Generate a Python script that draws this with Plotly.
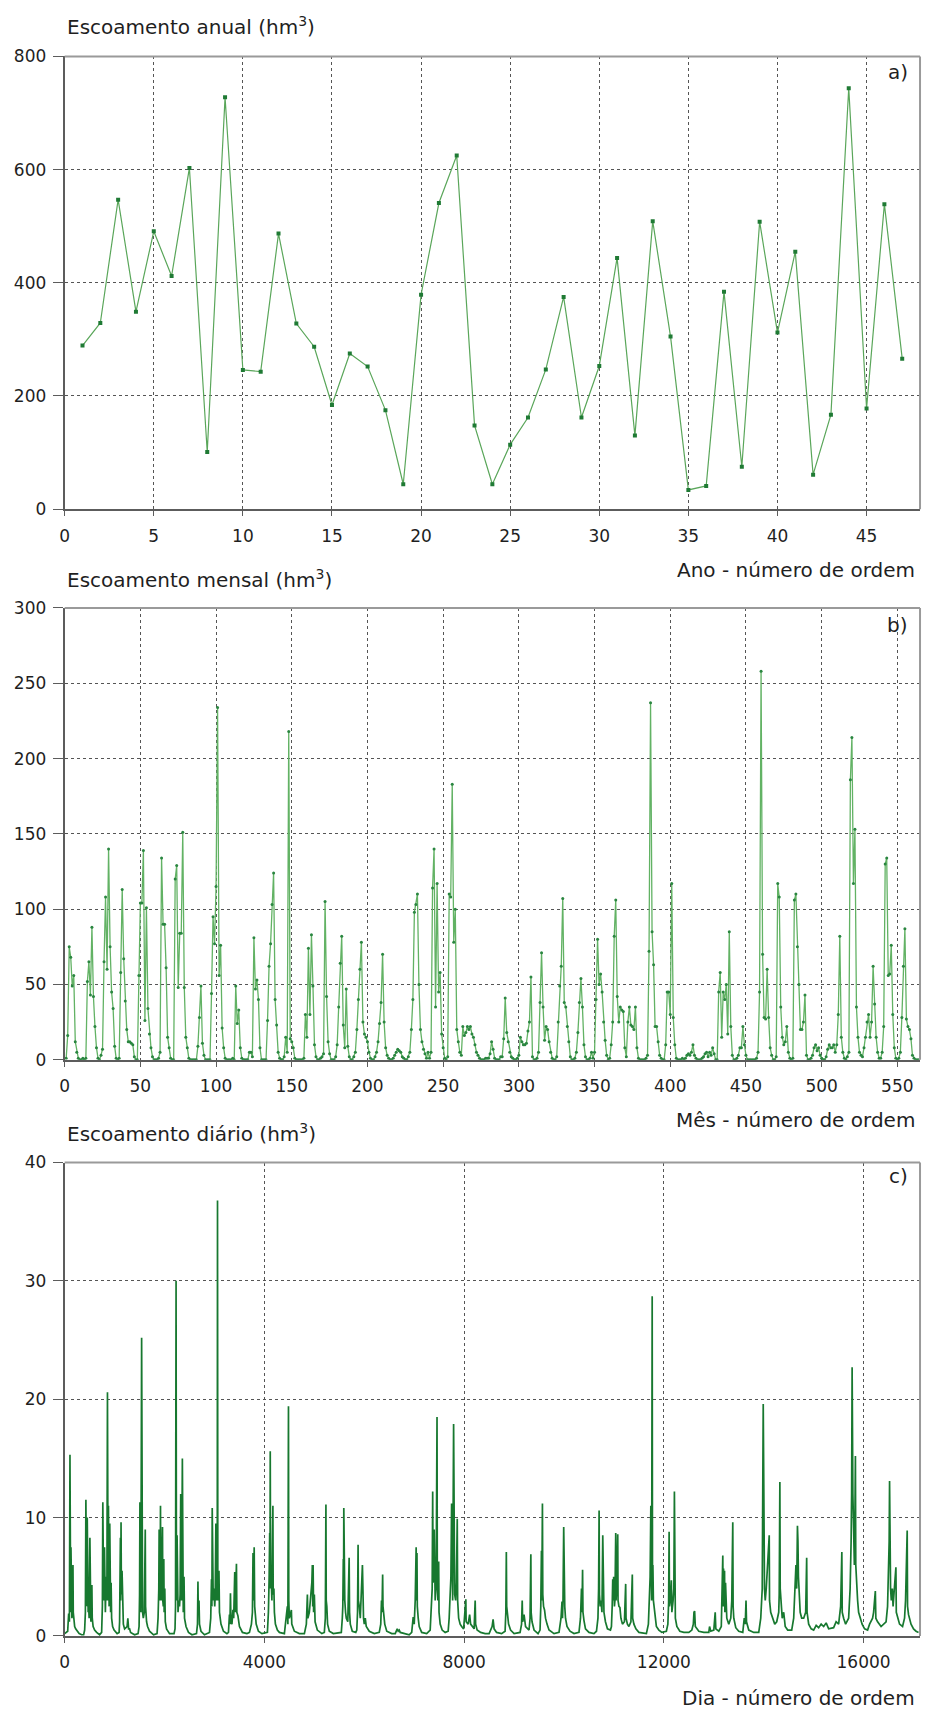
import plotly.graph_objects as go

# ---------------- data ----------------
# (a) annual runoff, hm3, by year order number
ano = list(range(1, 48))
escoamento_anual = [
    289, 329, 547, 349, 491, 412, 603, 101, 728, 246,
    243, 487, 328, 287, 184, 275, 252, 175, 44, 379,
    541, 625, 148, 44, 114, 162, 247, 375, 162, 253,
    444, 130, 509, 305, 34, 41, 384, 75, 508, 312,
    455, 61, 167, 744, 178, 539, 266,
]

# (b) monthly runoff, hm3, by month order number (one row per year)
escoamento_mensal = [
    1, 16, 75, 68, 49, 56, 12, 5, 1, 0, 0, 1,
    0, 1, 52, 65, 43, 88, 42, 22, 8, 1, 0, 3,
    7, 65, 108, 60, 140, 75, 45, 34, 9, 1, 0, 1,
    58, 113, 67, 39, 20, 12, 12, 11, 10, 2, 0, 0,
    56, 104, 104, 139, 26, 101, 34, 17, 8, 2, 0, 0,
    0, 1, 5, 134, 90, 90, 61, 15, 8, 1, 0, 0,
    120, 129, 48, 84, 84, 151, 48, 15, 8, 1, 0, 0,
    0, 0, 0, 9, 28, 49, 11, 3, 0, 0, 0, 0,
    44, 95, 77, 115, 234, 56, 76, 21, 8, 1, 0, 0,
    0, 0, 1, 0, 49, 24, 33, 8, 1, 0, 0, 0,
    0, 5, 5, 2, 81, 47, 53, 40, 8, 0, 0, 0,
    0, 26, 62, 77, 103, 124, 40, 23, 5, 1, 0, 0,
    2, 15, 5, 218, 14, 12, 8, 1, 0, 0, 0, 0,
    0, 1, 30, 15, 74, 30, 83, 49, 10, 2, 0, 0,
    1, 2, 4, 105, 42, 12, 4, 0, 0, 0, 2, 10,
    35, 64, 82, 23, 8, 47, 9, 2, 0, 0, 2, 5,
    20, 40, 60, 78, 25, 17, 15, 12, 5, 1, 0, 0,
    2, 5, 12, 24, 38, 70, 25, 8, 3, 1, 0, 0,
    1, 3, 5, 7, 6, 5, 2, 1, 0, 0, 2, 5,
    20, 40, 98, 103, 110, 50, 20, 12, 7, 4, 1, 5,
    1, 5, 114, 140, 35, 117, 45, 58, 17, 8, 1, 0,
    2, 110, 108, 183, 78, 100, 20, 12, 5, 3, 22, 16,
    18, 22, 20, 22, 17, 15, 10, 5, 3, 1, 0, 0,
    0, 1, 1, 1, 4, 12, 7, 1, 0, 0, 0, 2,
    2, 14, 41, 18, 12, 5, 2, 1, 0, 0, 1, 3,
    15, 12, 10, 10, 11, 19, 25, 55, 2, 0, 0, 1,
    5, 38, 71, 35, 13, 22, 20, 12, 5, 1, 0, 0,
    2, 25, 49, 62, 107, 38, 35, 22, 12, 2, 0, 0,
    1, 5, 18, 38, 54, 35, 10, 2, 0, 0, 1, 5,
    1, 5, 40, 80, 50, 57, 45, 25, 13, 3, 0, 1,
    10, 25, 82, 106, 42, 25, 35, 33, 32, 8, 2, 25,
    35, 23, 22, 20, 35, 8, 1, 0, 0, 0, 0, 1,
    3, 72, 237, 85, 63, 22, 22, 12, 3, 1, 0, 0,
    10, 45, 45, 30, 117, 28, 10, 1, 0, 0, 0, 1,
    0, 1, 3, 4, 3, 5, 10, 3, 1, 0, 0, 0,
    1, 2, 4, 5, 2, 5, 3, 8, 4, 0, 0, 45,
    58, 15, 45, 40, 50, 17, 85, 22, 3, 0, 0, 1,
    3, 8, 8, 22, 10, 3, 0, 0, 0, 0, 0, 0,
    1, 5, 45, 258, 70, 28, 27, 60, 28, 8, 3, 0,
    0, 2, 117, 108, 35, 15, 10, 12, 22, 5, 1, 0,
    1, 106, 110, 75, 50, 20, 20, 25, 43, 3, 0, 0,
    1, 3, 8, 10, 6, 8, 3, 1, 0, 0, 2, 7,
    10, 8, 8, 10, 5, 10, 30, 82, 15, 5, 1, 0,
    2, 5, 186, 214, 117, 153, 35, 15, 5, 3, 2, 8,
    15, 25, 30, 15, 25, 62, 37, 15, 5, 1, 1, 5,
    22, 130, 134, 56, 57, 76, 30, 8, 1, 0, 1, 5,
    28, 62, 87, 27, 22, 20, 14, 3, 1, 0, 0, 0,
]
mes = list(range(1, len(escoamento_mensal) + 1))

# (c) daily runoff, hm3, sampled at the day numbers below
dia = [
    0, 60, 80, 95, 106, 112, 120, 126, 132, 145, 155, 166, 172, 185, 200, 220, 250, 290, 340,
    380, 400, 415, 425, 432, 440, 452, 458, 470, 480, 490, 505, 512, 525, 545, 552, 570, 600, 640, 700,
    740, 755, 764, 770, 780, 797, 805, 815, 830, 845, 857, 862, 870, 877, 883, 890, 903, 910, 920, 930, 940, 960, 990, 1050,
    1090, 1100, 1116, 1122, 1129, 1136, 1149, 1158, 1175, 1200, 1250, 1265, 1280, 1300, 1320, 1400,
    1470, 1490, 1500, 1507, 1514, 1525, 1541, 1547, 1560, 1575, 1595, 1614, 1620, 1640, 1660, 1700, 1780,
    1850, 1870, 1885, 1892, 1898, 1910, 1919, 1925, 1935, 1945, 1959, 1965, 1975, 1985, 1992, 2005, 2015, 2040, 2100,
    2190, 2210, 2220, 2231, 2238, 2245, 2251, 2258, 2270, 2285, 2300, 2312, 2324, 2330, 2340, 2357, 2363, 2375, 2390, 2400, 2430, 2480, 2550,
    2640, 2660, 2669, 2676, 2690, 2700, 2730, 2800,
    2900, 2925, 2940, 2948, 2955, 2962, 2975, 2990, 3005, 3015, 3028, 3035, 3045, 3055, 3061, 3067, 3075, 3090, 3100, 3130, 3180, 3250,
    3280, 3300, 3310, 3320, 3330, 3350, 3370, 3385, 3406, 3415, 3440, 3448, 3470, 3500, 3560, 3650,
    3700, 3740, 3760, 3772, 3780, 3795, 3805, 3820, 3835, 3880, 3950,
    4060, 4080, 4095, 4106, 4112, 4117, 4124, 4135, 4150, 4170, 4176, 4190, 4200, 4220, 4260, 4300,
    4400, 4440, 4460, 4470, 4482, 4488, 4500, 4540, 4548, 4600, 4700,
    4800, 4840, 4861, 4870, 4900, 4930, 4950, 4960, 4968, 4975, 4985, 5000, 5015, 5060, 5150,
    5200, 5220, 5232, 5238, 5250, 5265, 5300, 5380,
    5540, 5560, 5570, 5580, 5585, 5590, 5597, 5610, 5625, 5640, 5670, 5697, 5705, 5720, 5760, 5830,
    5850, 5865, 5876, 5882, 5900, 5920, 5963, 5970, 5985, 6000, 6020, 6040, 6100, 6200,
    6300, 6330, 6345, 6355, 6368, 6375, 6390, 6410, 6450, 6550,
    6620, 6640, 6660, 6680, 6700, 6720, 6800, 6900,
    6950, 6980, 7000, 7020, 7039, 7045, 7055, 7062, 7080, 7100, 7150, 7250,
    7320, 7340, 7360, 7370, 7378, 7390, 7400, 7408, 7420, 7440, 7457, 7463, 7475, 7490, 7497, 7520, 7560, 7620,
    7680, 7700, 7720, 7735, 7749, 7756, 7770, 7789, 7795, 7810, 7830, 7845, 7862, 7870, 7890, 7920, 7950, 7990, 8034, 8040, 8080, 8110, 8130, 8170,
    8200, 8221, 8230, 8260, 8330, 8420,
    8500, 8560, 8580, 8600, 8650, 8750,
    8820, 8835, 8845, 8852, 8865, 8890, 8930, 9000,
    9120, 9150, 9163, 9172, 9200, 9230, 9300, 9320, 9336, 9342, 9360, 9400, 9480,
    9520, 9535, 9548, 9555, 9568, 9575, 9590, 9610, 9630, 9660, 9700, 9800,
    9900, 9940, 9960, 9970, 9980, 9994, 10000, 10015, 10030, 10060, 10120, 10200,
    10300, 10330, 10350, 10360, 10372, 10380, 10400, 10430, 10500, 10600,
    10650, 10680, 10693, 10703, 10710, 10725, 10740, 10760, 10776, 10784, 10800, 10830, 10870, 10930,
    10950, 10965, 10976, 10985, 10995, 11010, 11020, 11036, 11042, 11055, 11076, 11082, 11100, 11120, 11140, 11170, 11210, 11235, 11242, 11270, 11300, 11340, 11368, 11375, 11400, 11440, 11500,
    11650, 11690, 11710, 11725, 11739, 11745, 11755, 11766, 11772, 11780, 11790, 11805, 11820, 11850, 11900, 11960,
    12050, 12080, 12095, 12105, 12112, 12130, 12150, 12160, 12185, 12200, 12211, 12218, 12230, 12260, 12320, 12400,
    12500, 12560, 12590, 12603, 12616, 12630, 12700, 12800,
    12900, 12915, 12940, 13000, 13028, 13040, 13100,
    13150, 13165, 13172, 13180, 13187, 13195, 13202, 13215, 13222, 13235, 13245, 13260, 13300, 13340, 13360, 13380, 13387, 13400, 13440, 13500,
    13580, 13610, 13630, 13645, 13655, 13700, 13800,
    13900, 13940, 13970, 13990, 13996, 14005, 14015, 14030, 14050, 14110, 14116, 14140, 14180, 14220, 14260, 14300, 14310, 14323, 14330, 14345, 14370, 14400, 14430, 14480,
    14560, 14600, 14620, 14645, 14660, 14675, 14685, 14695, 14710, 14730, 14760, 14800, 14840, 14860, 14868, 14900, 14950,
    15000, 15050, 15100, 15150, 15200, 15250, 15300, 15400, 15450, 15500, 15540, 15564, 15572, 15600, 15640,
    15700, 15730, 15750, 15760, 15770, 15776, 15785, 15795, 15805, 15815, 15826, 15836, 15843, 15860, 15880, 15900, 15930, 15970, 16020, 16080, 16120, 16180, 16200, 16215, 16235, 16245, 16280, 16350, 16400,
    16450, 16480, 16500, 16512, 16520, 16528, 16540, 16555, 16575, 16590, 16610, 16625, 16647, 16655, 16680, 16720, 16780, 16820, 16840, 16855, 16873, 16880, 16900, 16950, 17000, 17050, 17100,
]
escoamento_diario = [
    0.2, 0.4, 1.9, 1.2, 15.3, 3.0, 2.0, 7.5, 2.5, 1.5, 2.0, 6.0, 2.0, 1.0, 0.8, 0.6, 0.4, 0.2, 0.1,
    0.1, 0.5, 2.0, 11.5, 3.5, 2.5, 10.0, 3.0, 2.0, 2.5, 1.5, 8.3, 2.5, 1.2, 4.3, 1.5, 0.8, 0.5, 0.3, 0.1,
    0.3, 2.5, 11.3, 4.0, 3.0, 7.5, 3.5, 2.0, 5.0, 3.0, 20.6, 4.5, 3.0, 11.0, 3.5, 2.5, 9.5, 3.0, 2.0, 4.5, 1.5, 0.8, 0.5, 0.2,
    0.3, 1.2, 8.3, 3.0, 9.6, 3.5, 5.5, 2.0, 1.0, 0.6, 0.8, 1.5, 0.6, 0.6, 0.3, 0.1,
    0.2, 0.8, 3.5, 11.3, 3.0, 2.0, 25.2, 4.0, 2.0, 1.5, 2.0, 9.0, 2.5, 1.2, 0.8, 0.4, 0.1,
    0.2, 1.5, 4.0, 9.0, 3.5, 3.0, 11.0, 4.0, 3.0, 5.5, 9.2, 3.0, 2.5, 6.5, 2.0, 4.0, 1.2, 0.6, 0.2,
    0.2, 0.6, 2.5, 30.0, 5.0, 3.0, 8.5, 2.5, 2.0, 3.0, 2.5, 3.5, 12.0, 4.0, 3.0, 15.0, 4.0, 2.0, 5.0, 1.5, 0.8, 0.3, 0.1,
    0.2, 1.0, 4.6, 2.0, 3.0, 1.0, 0.4, 0.1,
    0.3, 1.5, 4.8, 2.5, 10.8, 3.5, 3.0, 4.0, 2.5, 3.5, 9.5, 3.0, 4.0, 3.0, 36.8, 5.0, 3.0, 5.5, 2.0, 1.0, 0.4, 0.2,
    0.3, 1.8, 1.0, 3.6, 1.2, 1.0, 2.2, 1.5, 5.4, 2.0, 6.1, 2.0, 1.7, 0.8, 0.3, 0.2,
    0.3, 1.0, 2.0, 7.0, 3.0, 7.5, 2.5, 2.0, 1.0, 0.4, 0.2,
    0.3, 2.0, 5.0, 8.7, 4.0, 15.6, 4.5, 5.0, 3.0, 11.0, 3.5, 4.0, 2.0, 1.0, 0.5, 0.3,
    0.2, 1.5, 2.5, 1.0, 19.4, 3.0, 1.5, 2.2, 1.0, 0.4, 0.2,
    0.2, 1.0, 3.5, 1.5, 2.0, 3.5, 4.5, 6.0, 2.5, 6.0, 2.0, 3.5, 1.2, 0.5, 0.2,
    0.3, 1.5, 11.1, 3.0, 2.5, 1.0, 0.4, 0.2,
    0.3, 1.5, 2.5, 6.5, 3.0, 10.8, 3.5, 3.0, 2.0, 1.5, 1.2, 6.6, 2.0, 1.0, 0.4, 0.3,
    0.5, 2.0, 7.7, 3.0, 2.5, 1.5, 6.0, 2.0, 1.5, 1.0, 1.5, 0.8, 0.4, 0.2,
    0.3, 1.0, 3.0, 2.0, 5.2, 2.5, 1.5, 1.0, 0.4, 0.2,
    0.2, 0.5, 0.6, 0.4, 0.5, 0.3, 0.2, 0.1,
    0.3, 1.6, 1.0, 3.0, 7.5, 3.0, 7.0, 2.5, 1.5, 0.8, 0.3, 0.2,
    0.5, 2.0, 4.0, 12.2, 4.5, 5.0, 9.0, 3.5, 3.0, 5.0, 18.5, 4.0, 3.0, 6.3, 2.0, 1.0, 0.5, 0.3,
    0.4, 1.5, 3.0, 5.0, 11.2, 4.0, 3.0, 17.9, 4.0, 3.5, 3.0, 4.5, 9.9, 3.0, 1.5, 1.0, 0.8, 0.6, 3.1, 1.2, 1.0, 1.8, 1.0, 0.8,
    0.6, 3.0, 1.0, 0.5, 0.3, 0.2,
    0.2, 0.8, 1.4, 0.6, 0.3, 0.2,
    0.4, 2.0, 7.1, 2.5, 1.8, 1.0, 0.5, 0.2,
    0.3, 1.0, 3.0, 1.2, 1.8, 0.8, 0.5, 1.5, 6.9, 2.0, 1.2, 0.5, 0.2,
    0.5, 2.5, 7.2, 3.0, 11.2, 3.5, 2.5, 2.2, 1.5, 1.0, 0.5, 0.2,
    0.3, 1.5, 2.9, 1.5, 3.0, 9.2, 3.0, 2.5, 1.5, 0.8, 0.4, 0.2,
    0.3, 1.5, 4.0, 2.0, 5.6, 2.0, 1.3, 0.6, 0.3, 0.2,
    0.4, 1.5, 4.0, 10.6, 3.5, 2.5, 3.0, 2.0, 8.5, 3.0, 2.0, 1.2, 0.6, 0.5,
    0.8, 2.5, 4.8, 3.0, 5.0, 2.5, 3.0, 8.7, 3.0, 4.0, 8.6, 3.0, 2.5, 2.4, 1.5, 1.0, 1.2, 4.4, 1.5, 1.0, 0.8, 1.2, 5.2, 1.5, 1.0, 0.6, 0.3,
    0.2, 1.0, 3.5, 5.0, 11.0, 4.5, 3.0, 28.7, 5.0, 6.0, 3.0, 2.5, 1.5, 0.8, 0.5, 0.3,
    0.4, 1.0, 2.8, 8.8, 2.5, 3.0, 4.7, 2.0, 3.0, 4.0, 12.2, 3.0, 1.5, 0.8, 0.4, 0.3,
    0.3, 0.5, 1.0, 2.0, 2.1, 0.8, 0.4, 0.3,
    0.3, 0.8, 0.4, 0.5, 2.0, 0.6, 0.4,
    0.8, 3.0, 4.8, 6.8, 2.5, 5.7, 2.5, 5.5, 2.0, 4.5, 2.0, 1.5, 1.0, 1.5, 3.0, 9.6, 2.5, 1.5, 0.7, 0.4,
    0.3, 1.5, 1.0, 3.0, 1.2, 0.5, 0.3,
    0.3, 1.5, 4.0, 19.6, 13.2, 5.0, 4.0, 3.0, 4.0, 8.5, 3.0, 2.0, 1.5, 1.0, 1.2, 2.0, 3.5, 13.0, 4.0, 2.5, 1.5, 2.0, 0.8, 0.5,
    0.5, 1.5, 3.0, 6.0, 4.0, 9.3, 8.0, 5.0, 4.0, 2.0, 1.5, 1.5, 2.0, 6.6, 2.0, 1.0, 0.6,
    0.5, 0.9, 0.7, 1.0, 0.8, 1.1, 0.6, 0.7, 1.2, 1.0, 2.5, 7.1, 2.0, 1.5, 1.0,
    1.5, 4.0, 8.0, 12.0, 22.7, 13.3, 12.0, 10.0, 8.0, 6.0, 10.0, 15.2, 6.0, 4.0, 3.0, 2.0, 1.5, 1.0, 0.6, 0.5, 1.0, 1.5, 2.0, 3.0, 3.8, 1.5, 1.2, 0.8, 1.0,
    1.2, 2.5, 5.0, 8.0, 13.1, 4.7, 4.0, 3.0, 4.0, 2.5, 3.5, 4.5, 5.8, 2.0, 1.5, 1.0, 0.8, 1.5, 3.0, 5.0, 8.9, 2.5, 1.8, 1.0, 0.6, 0.4, 0.3,
]

# ---------------- layout helpers ----------------
W, H = 925, 1728
FONT = "DejaVu Sans"
TXT = "#1f1f1f"


def px_x(p):
    return p / W


def px_y(p):
    return 1 - p / H


X0, X1 = 60, 920
panels = [
    # (top px, bottom px)
    (47, 505),
    (605, 1062),
    (1166, 1645),
]

fig = go.Figure()

fig.add_trace(go.Scatter(
    x=ano, y=escoamento_anual, mode="lines+markers",
    line=dict(color="#5aa65a", width=1.2),
    marker=dict(symbol="square", size=4, color="#1f7a34"),
    xaxis="x", yaxis="y", showlegend=False,
))
fig.add_trace(go.Scatter(
    x=mes, y=escoamento_mensal, mode="lines+markers",
    line=dict(color="#62b264", width=1.3),
    marker=dict(symbol="circle", size=3, color="#2a8640"),
    xaxis="x2", yaxis="y2", showlegend=False,
))
fig.add_trace(go.Scatter(
    x=dia, y=escoamento_diario, mode="lines",
    line=dict(color="#17782f", width=1.7),
    xaxis="x3", yaxis="y3", showlegend=False,
))

axis_common = dict(
    showline=True, linecolor="#5c5c5c", linewidth=2,
    showgrid=True, gridcolor="#555555", griddash="dot", gridwidth=1,
    zeroline=False, ticks="outside", tickcolor="#5c5c5c",
    tickfont=dict(family=FONT, size=17, color=TXT),
    fixedrange=True,
)

xranges = [(0, 48, 5), (0, 565, 50), (0, 17130, 4000)]
yranges = [(0, 800, 200), (0, 300, 50), (0, 40, 10)]

layout_axes = {}
for i, ((top, bot), (xa, xb, xd), (ya, yb, yd)) in enumerate(zip(panels, xranges, yranges), start=1):
    sx = "" if i == 1 else str(i)
    layout_axes[f"xaxis{sx}"] = dict(
        axis_common, domain=[px_x(X0), px_x(X1)], range=[xa, xb],
        tick0=0, dtick=xd, ticklen=5, ticklabelstandoff=5,
        tickformat="d", anchor=f"y{sx}",
    )
    layout_axes[f"yaxis{sx}"] = dict(
        axis_common, domain=[px_y(bot), px_y(top)], range=[ya, yb],
        tick0=0, dtick=yd, ticklen=10, ticklabelstandoff=3,
        tickformat="d", anchor=f"x{sx}",
    )

fig.update_layout(
    width=W, height=H, margin=dict(l=0, r=0, t=0, b=0),
    paper_bgcolor="white", plot_bgcolor="white",
    font=dict(family=FONT, color=TXT),
    **layout_axes,
)

# light frame on top and right sides of each panel
shapes = []
for i in range(1, 4):
    sx = "" if i == 1 else str(i)
    shapes.append(dict(type="line", xref=f"x{sx} domain", yref=f"y{sx} domain",
                       x0=0, x1=1, y0=1, y1=1, line=dict(color="#9a9a9a", width=2)))
    shapes.append(dict(type="line", xref=f"x{sx} domain", yref=f"y{sx} domain",
                       x0=1, x1=1, y0=0, y1=1, line=dict(color="#9a9a9a", width=2)))
fig.update_layout(shapes=shapes)

titles = [
    ("Escoamento anual (hm<sup>3</sup>)", 16),
    ("Escoamento mensal (hm<sup>3</sup>)", 576),
    ("Escoamento diário (hm<sup>3</sup>)", 1136),
]
xlabels = [
    ("Ano - número de ordem", 567),
    ("Mês - número de ordem", 1123),
    ("Dia - número de ordem", 1708),
]
letters = [("a)", 63), ("b)", 622), ("c)", 1180)]

ann = []
for text, y in titles:
    ann.append(dict(text=text, x=px_x(X0), y=px_y(y), xref="paper", yref="paper",
                    xanchor="left", yanchor="middle", showarrow=False,
                    font=dict(family=FONT, size=20, color=TXT)))
for text, y in xlabels:
    ann.append(dict(text=text, x=px_x(917), y=px_y(y), xref="paper", yref="paper",
                    xanchor="right", yanchor="middle", showarrow=False,
                    font=dict(family=FONT, size=20, color=TXT)))
for text, y in letters:
    ann.append(dict(text=text, x=px_x(910), y=px_y(y), xref="paper", yref="paper",
                    xanchor="right", yanchor="middle", showarrow=False,
                    font=dict(family=FONT, size=20, color=TXT)))
fig.update_layout(annotations=ann)

fig.write_html("out.html")
